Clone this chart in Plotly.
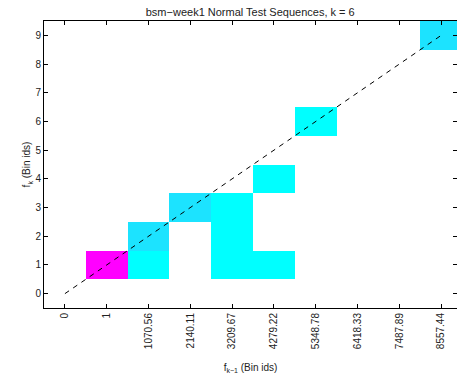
import plotly.graph_objects as go

# Data
x_labels = ["0", "1", "1070.56", "2140.11", "3209.67", "4279.22",
            "5348.78", "6418.33", "7487.89", "8557.44"]
y_labels = [str(i) for i in range(10)]
cell_x = [1, 2, 2, 3, 4, 4, 4, 5, 5, 6, 9]
cell_y = [1, 1, 2, 3, 1, 2, 3, 1, 4, 6, 9]
cell_v = [10, 1, 2, 2, 1, 1, 1, 1, 1, 1, 2]
title = "bsm\u2212week1 Normal Test Sequences, k = 6"

n = len(x_labels)
z = [[None] * n for _ in range(len(y_labels))]
for cx, cy, v in zip(cell_x, cell_y, cell_v):
    z[cy][cx] = v

font = "Liberation Sans, Arial, Helvetica, sans-serif"

fig = go.Figure()
fig.add_trace(go.Heatmap(
    z=z, x=list(range(n)), y=list(range(len(y_labels))),
    colorscale=[[0, "rgb(0,255,255)"], [1, "rgb(255,0,255)"]],
    zmin=1, zmax=10, showscale=False, hoverongaps=False,
))
fig.add_trace(go.Scatter(
    x=[0, 9], y=[0, 9], mode="lines",
    line=dict(color="black", width=1, dash="5px,5px"),
    showlegend=False,
))

axis_common = dict(
    showline=True, linecolor="black", linewidth=1, mirror="ticks",
    ticks="inside", ticklen=4, tickcolor="black", showgrid=False,
    zeroline=False, tickfont=dict(family=font, size=10, color="#222"),
)
fig.update_xaxes(
    range=[-0.5, 9.378], tickvals=list(range(n)), ticktext=x_labels,
    tickangle=-90,
    title=dict(text="f<sub>k\u22121</sub> (Bin ids)", standoff=15,
               font=dict(family=font, size=10, color="#222")),
    **axis_common,
)
fig.update_yaxes(
    range=[-0.5, 9.5], tickvals=list(range(len(y_labels))), ticktext=y_labels,
    title=dict(text="f<sub>k</sub> (Bin ids)", standoff=2,
               font=dict(family=font, size=10, color="#222")),
    **axis_common,
)
fig.update_layout(
    width=457, height=383,
    margin=dict(l=44, r=0, t=21, b=75),
    paper_bgcolor="white", plot_bgcolor="white",
    title=dict(text=title, x=0.5475, xanchor="center", y=0.968, yanchor="middle",
               font=dict(family=font, size=11, color="#222")),
    showlegend=False,
)
fig.write_html("out.html")
